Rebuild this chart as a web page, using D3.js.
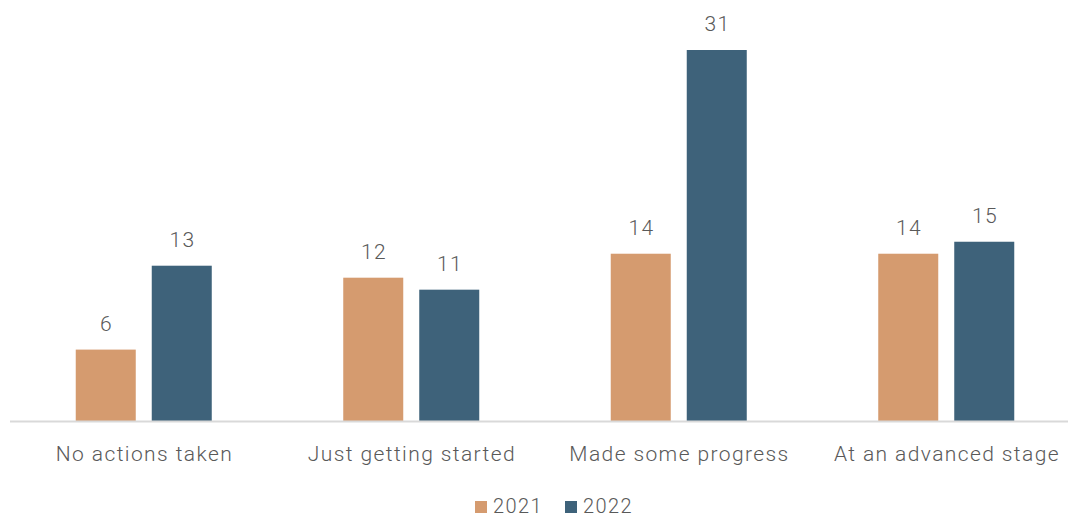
<!DOCTYPE html>
<html>
<head>
<meta charset="utf-8">
<script src="https://cdn.jsdelivr.net/npm/d3@7"></script>
<style>
  html, body { margin: 0; padding: 0; background: #fff; }
  svg { display: block; font-family: Roboto, "Liberation Sans", sans-serif; font-weight: 300; letter-spacing: 1.4px; }
</style>
</head>
<body>
<svg id="chart" width="1068" height="518"></svg>
<script>
// Progress stages and the share of respondents in each, by survey year
const categories = ["No actions taken", "Just getting started", "Made some progress", "At an advanced stage"];
const years = ["2021", "2022"];
const values2021 = [6, 12, 14, 14];
const values2022 = [13, 11, 31, 15];
const colors = ["#D59B6F", "#3E627A"];

const svg = d3.select("#chart");
const textColor = "#595959";

const x = d3.scaleBand().domain(categories).range([10, 1080]).paddingInner(0).paddingOuter(0);
const xInner = d3.scaleBand().domain(years).range([0, x.bandwidth()]).paddingInner(0.2105).paddingOuter(0.865);
const y = d3.scaleLinear().domain([0, 31]).range([421.5, 50]);

const rows = categories.map((c, i) => ({ category: c, vals: [values2021[i], values2022[i]] }));

// Bars
const groups = svg.selectAll("g.cat").data(rows).join("g")
  .attr("class", "cat")
  .attr("transform", d => `translate(${x(d.category)},0)`);

groups.selectAll("rect").data(d => d.vals.map((v, j) => ({ year: years[j], v, j }))).join("rect")
  .attr("x", d => xInner(d.year))
  .attr("y", d => y(d.v))
  .attr("width", xInner.bandwidth())
  .attr("height", d => y(0) - y(d.v))
  .attr("fill", d => colors[d.j]);

// Value labels
groups.selectAll("text.val").data(d => d.vals.map((v, j) => ({ year: years[j], v, j }))).join("text")
  .attr("class", "val")
  .attr("x", d => xInner(d.year) + xInner.bandwidth() / 2 + 0.7)
  .attr("y", d => y(d.v) - 19)
  .attr("text-anchor", "middle")
  .attr("font-size", 21)
  .attr("fill", textColor)
  .text(d => d.v);

// Category axis
const axis = svg.append("g").attr("transform", `translate(0,${y(0)})`)
  .call(d3.axisBottom(x).tickSize(0).tickPadding(0));
axis.select(".domain").attr("stroke", "#D9D9D9").attr("stroke-width", 2).attr("d", "M10,0H1068");
axis.selectAll("text")
  .attr("dy", null)
  .attr("y", 39)
  .attr("x", 0.7)
  .attr("font-size", 21)
  .attr("font-family", "Roboto, 'Liberation Sans', sans-serif")
  .attr("font-weight", 300)
  .attr("fill", textColor);

// Legend
const legend = svg.append("g").attr("transform", "translate(475,0)");
const legendItems = legend.selectAll("g").data(years).join("g")
  .attr("transform", (d, i) => `translate(${i * 90},0)`);
legendItems.append("rect")
  .attr("x", 0).attr("y", 501).attr("width", 12).attr("height", 12)
  .attr("fill", (d, i) => colors[i]);
legendItems.append("text")
  .attr("x", 18).attr("y", 513)
  .attr("font-size", 20)
  .attr("fill", textColor)
  .text(d => d);
</script>
</body>
</html>
